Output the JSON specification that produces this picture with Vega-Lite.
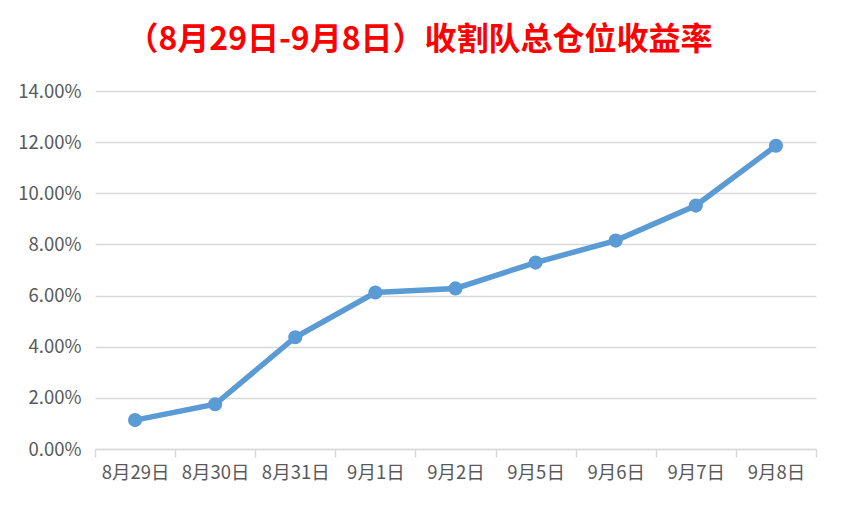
{
  "$schema": "https://vega.github.io/schema/vega-lite/v6.json",
  "width": 721,
  "height": 358,
  "autosize": {"type": "none"},
  "padding": {"left": 95, "top": 91, "right": 26, "bottom": 57},
  "background": "white",
  "title": {
    "text": "（8月29日-9月8日）收割队总仓位收益率",
    "color": "#FF0000",
    "font": "Noto Sans CJK SC",
    "fontSize": 32,
    "fontWeight": "bold",
    "anchor": "middle",
    "frame": "group",
    "dx": -36,
    "offset": 25
  },
  "data": {
    "values": [
      {"date": "8月29日", "rate": 0.0113},
      {"date": "8月30日", "rate": 0.0175},
      {"date": "8月31日", "rate": 0.0437},
      {"date": "9月1日", "rate": 0.0612},
      {"date": "9月2日", "rate": 0.0628},
      {"date": "9月5日", "rate": 0.0729},
      {"date": "9月6日", "rate": 0.0815},
      {"date": "9月7日", "rate": 0.0952},
      {"date": "9月8日", "rate": 0.1186}
    ]
  },
  "config": {
    "view": {"stroke": null},
    "axis": {
      "labelFont": "Noto Sans CJK SC",
      "labelFontSize": 18.5,
      "labelColor": "#595959",
      "gridColor": "#D9D9D9",
      "gridWidth": 1.5,
      "domainColor": "#D9D9D9",
      "domainWidth": 1.5,
      "tickColor": "#D9D9D9",
      "tickWidth": 1.5
    }
  },
  "layer": [
    {
      "mark": {"type": "line", "color": "#5B9BD5", "strokeWidth": 5.5},
      "encoding": {
        "x": {
          "field": "date",
          "type": "nominal",
          "sort": null,
          "title": null,
          "bandPosition": 0.5,
          "scale": {"type": "band", "paddingInner": 0, "paddingOuter": 0},
          "axis": {
            "labelAngle": 0,
            "tickBand": "extent",
            "tickSize": 8,
            "labelPadding": 6,
            "grid": false
          }
        },
        "y": {
          "field": "rate",
          "type": "quantitative",
          "title": null,
          "scale": {"domain": [0, 0.14], "nice": false},
          "axis": {
            "format": ".2%",
            "values": [0, 0.02, 0.04, 0.06, 0.08, 0.1, 0.12, 0.14],
            "domain": false,
            "ticks": false,
            "labelPadding": 14
          }
        }
      }
    },
    {
      "mark": {"type": "point", "filled": true, "opacity": 1, "color": "#5B9BD5", "size": 200},
      "encoding": {
        "x": {"field": "date", "type": "nominal", "sort": null, "bandPosition": 0.5},
        "y": {"field": "rate", "type": "quantitative"}
      }
    }
  ]
}
